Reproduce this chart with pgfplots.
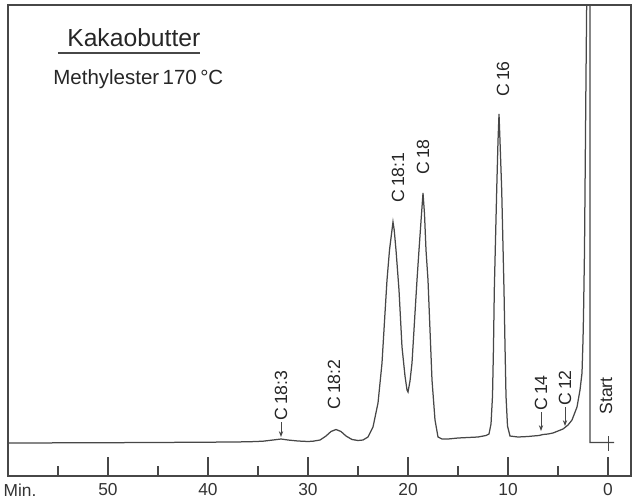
\documentclass[border=0pt]{standalone}
\usepackage{fontspec}
\setmainfont{Liberation Sans}
\usepackage{pgfplots}
\pgfplotsset{compat=1.18}
\usetikzlibrary{arrows.meta}

\newcommand{\lab}{\fontsize{10.6}{12}\selectfont}
\colorlet{ink}{black!72}

\begin{document}
\begin{tikzpicture}
\begin{axis}[
    scale only axis,
    width=373.8pt, height=282.6pt,
    x dir=reverse,
    xmin=-2.3, xmax=60, ymin=0, ymax=471,
    axis line style={ink, line width=0.9pt},
    xtick={0,10,20,30,40,50},
    xticklabels={0,10,20,30,40,50},
    minor xtick={5,15,25,35,45,55},
    extra x ticks={58.8},
    extra x tick labels={Min.},
    extra x tick style={tick style={draw=none}},
    ytick=\empty,
    xtick pos=bottom,
    tick align=inside,
    major tick length=11.4pt,
    minor tick length=6pt,
    tick style={ink, line width=0.7pt},
    xticklabel style={font=\fontsize{10.4}{12}\selectfont, text=black!80, yshift=-1pt},
]
\coordinate (sw) at (rel axis cs:0,0);
\coordinate (ne) at (rel axis cs:1,1);

% Chromatogramm, Zeit in Min. (Start rechts)
\addplot[ink, line width=0.75pt] coordinates {
    (-0.6,33.5) (0,33.5) (1.0,33.5) (1.8,33.5) (1.8,560)
    (2.05,560) (2.2,400) (2.35,226) (2.45,160) (2.5,136) (2.6,103)
    (2.8,86) (3.1,69) (3.6,56) (4.0,51) (4.5,47) (5.0,45) (5.5,43)
    (6.0,42) (6.5,41.5) (6.7,41) (6.9,40.5) (7.5,40) (8.0,39.5) (9.0,39)
    (9.8,40) (10.05,50) (10.2,80) (10.3,130) (10.4,186) (10.63,286)
    (10.8,335) (10.9,362) (11.0,335) (11.13,286) (11.37,186) (11.45,130)
    (11.55,80) (11.7,52) (11.9,42) (12.2,40.5) (13.0,39) (15.0,38)
    (16.0,37) (16.6,37) (17.0,39) (17.3,56) (17.6,96) (17.8,146)
    (18.0,196) (18.2,226) (18.35,262) (18.5,283) (18.65,262) (18.9,226)
    (19.1,196) (19.3,163) (19.6,113) (19.8,95) (20.0,84) (20.1,86)
    (20.3,100) (20.6,129) (20.9,186) (21.2,226) (21.38,246) (21.5,254)
    (21.65,242) (21.85,226) (22.1,196) (22.3,163) (22.6,113) (23.0,73)
    (23.5,49) (24.0,39) (24.5,36) (25.0,35.5) (25.6,36.5) (26.2,40)
    (26.7,44.5) (27.2,46.5) (27.7,44.5) (28.2,40) (28.8,36) (29.5,34.8)
    (30.0,34.5) (31.0,35) (32.0,36) (32.7,37) (33.5,36) (34.5,34.8)
    (36.0,34.2) (40.0,33.8) (50.0,33.3) (60.0,33)
};
% Startmarke
\addplot[ink, line width=0.6pt] coordinates {(0,40) (0,25)};

% Titel
\node[anchor=base west, inner sep=0pt, text=black!85,
      font=\fontsize{14.8}{17}\selectfont] at (axis cs:54.1,429) {Kakaobutter};
\draw[ink, line width=0.7pt] (axis cs:55.0,423) -- (axis cs:40.8,423);
\node[anchor=base west, inner sep=0pt, text=black!85,
      font=\fontsize{12.3}{14}\selectfont] at (axis cs:55.5,391) {Methylester\,170\,°C};

% Peakbezeichnungen
\begin{scope}[every node/.style={rotate=90, anchor=west, inner sep=0pt, font=\lab, text=black!85}]
\node at (axis cs:10.5,379) {C\,16};
\node at (axis cs:21.0,273) {C\,18:1};
\node at (axis cs:18.5,301) {C\,18};
\node at (axis cs:27.4,66) {C\,18:2};
\node at (axis cs:32.7,55) {C\,18:3};
\node at (axis cs:6.7,65) {C\,14};
\node at (axis cs:4.3,70) {C\,12};
\node at (axis cs:0.2,61) {Start};
\end{scope}
\begin{scope}[ink, line width=0.5pt, -{Stealth[length=3.5pt,width=2.6pt]}]
\draw (axis cs:32.7,54) -- (axis cs:32.7,39);
\draw (axis cs:6.7,64) -- (axis cs:6.7,45);
\draw (axis cs:4.3,69) -- (axis cs:4.3,50);
\end{scope}
\end{axis}
\pgfresetboundingbox
\path[use as bounding box] ([shift={(-4.8pt,-15pt)}]sw) rectangle ([shift={(1.2pt,3pt)}]ne);
\end{tikzpicture}
\end{document}
